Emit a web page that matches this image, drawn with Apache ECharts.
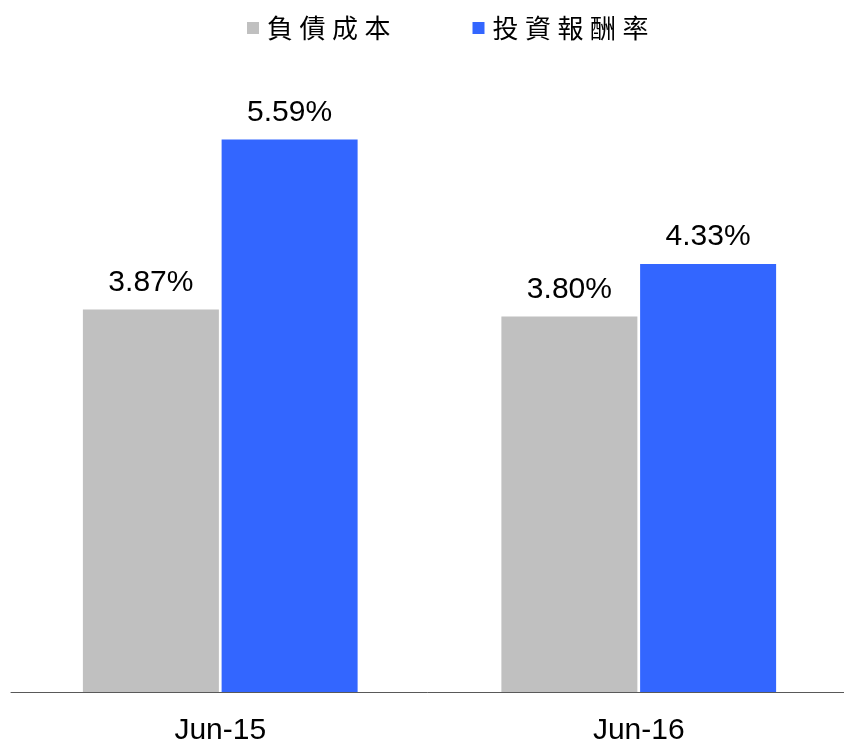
<!DOCTYPE html>
<html>
<head>
<meta charset="utf-8">
<script src="https://cdn.jsdelivr.net/npm/echarts@6/dist/echarts.min.js"></script>
<style>html,body{margin:0;padding:0;background:#fff;}#c{width:844px;height:745px;}</style>
</head>
<body>
<div id="c"></div>
<script>
var categories = ['Jun-15', 'Jun-16'];
var seriesNames = ['負債成本', '投資報酬率'];
var costOfDebt = [3.87, 3.80];
var investReturn = [5.59, 4.33];

var chart = echarts.init(document.getElementById('c'), null, {renderer: 'canvas'});
var labelCfg = {
  show: true, position: 'top', distance: 12,
  fontFamily: 'Liberation Sans, Arial, sans-serif', fontSize: 30, color: '#000',
  formatter: function (p) { return p.value.toFixed(2) + '%'; }
};
chart.setOption({
  animation: false,
  legend: {
    left: 242, top: 10, itemWidth: 12, itemHeight: 12, itemGap: 82,
    icon: 'rect',
    textStyle: { fontFamily: 'Noto Sans CJK TC', fontSize: 26, color: '#000', padding: [0, 0, 0, 3] },
    formatter: function (n) { return n.split('').join('\u2005'); },
    data: seriesNames
  },
  grid: { left: 11, width: 837, top: 99, bottom: 53, containLabel: false, outerBoundsMode: 'none' },
  xAxis: {
    type: 'category', data: categories,
    axisLine: { show: true, lineStyle: { color: '#595959', width: 1 } },
    axisTick: { show: false },
    axisLabel: { fontFamily: 'Liberation Sans, Arial, sans-serif', fontSize: 30, color: '#000', margin: 24 }
  },
  yAxis: {
    type: 'value', min: 0, max: 6, show: false, splitLine: { show: false }
  },
  series: [
    { name: seriesNames[0], type: 'bar', data: costOfDebt, barWidth: 136, barGap: '2%',
      itemStyle: { color: '#C0C0C0' }, label: labelCfg },
    { name: seriesNames[1], type: 'bar', data: investReturn, barWidth: 136, barGap: '2%',
      itemStyle: { color: '#3366FF' }, label: labelCfg }
  ]
});
</script>
</body>
</html>
